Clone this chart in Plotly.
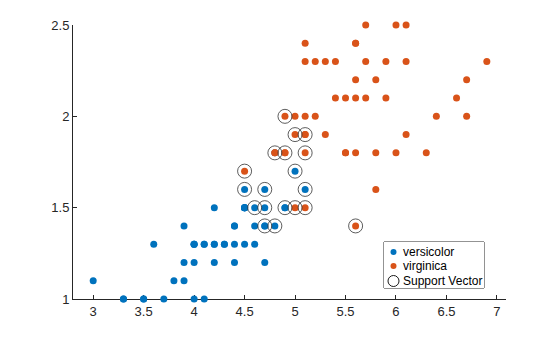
import plotly.graph_objects as go

# Fisher iris petal measurements (length, width) in cm
versicolor_len = [4.7, 4.5, 4.9, 4.0, 4.6, 4.5, 4.7, 3.3, 4.6, 3.9, 3.5, 4.2, 4.0, 4.7, 3.6,
                  4.4, 4.5, 4.1, 4.5, 3.9, 4.8, 4.0, 4.9, 4.7, 4.3, 4.4, 4.8, 5.0, 4.5, 3.5,
                  3.8, 3.7, 3.9, 5.1, 4.5, 4.5, 4.7, 4.4, 4.1, 4.0, 4.4, 4.6, 4.0, 3.3, 4.2,
                  4.2, 4.2, 4.3, 3.0, 4.1]
versicolor_wid = [1.4, 1.5, 1.5, 1.3, 1.5, 1.3, 1.6, 1.0, 1.3, 1.4, 1.0, 1.5, 1.0, 1.4, 1.3,
                  1.4, 1.5, 1.0, 1.5, 1.1, 1.8, 1.3, 1.5, 1.2, 1.3, 1.4, 1.4, 1.7, 1.5, 1.0,
                  1.1, 1.0, 1.2, 1.6, 1.5, 1.6, 1.5, 1.3, 1.3, 1.3, 1.2, 1.4, 1.2, 1.0, 1.3,
                  1.2, 1.3, 1.3, 1.1, 1.3]
virginica_len = [6.0, 5.1, 5.9, 5.6, 5.8, 6.6, 4.5, 6.3, 5.8, 6.1, 5.1, 5.3, 5.5, 5.0, 5.1,
                 5.3, 5.5, 6.7, 6.9, 5.0, 5.7, 4.9, 6.7, 4.9, 5.7, 6.0, 4.8, 4.9, 5.6, 5.8,
                 6.1, 6.4, 5.6, 5.1, 5.6, 6.1, 5.6, 5.5, 4.8, 5.4, 5.6, 5.1, 5.1, 5.9, 5.7,
                 5.2, 5.0, 5.2, 5.4, 5.1]
virginica_wid = [2.5, 1.9, 2.1, 1.8, 2.2, 2.1, 1.7, 1.8, 1.8, 2.5, 2.0, 1.9, 2.1, 2.0, 2.4,
                 2.3, 1.8, 2.2, 2.3, 1.5, 2.3, 2.0, 2.0, 1.8, 2.1, 1.8, 1.8, 1.8, 2.1, 1.6,
                 1.9, 2.0, 2.2, 1.5, 1.4, 2.3, 2.4, 1.8, 1.8, 2.1, 2.4, 2.3, 1.9, 2.3, 2.5,
                 2.3, 1.9, 2.0, 2.3, 1.8]

# Support vectors of the linear SVM separating the two species
sv_len = [4.9, 5.0, 5.1, 4.8, 4.9, 5.1, 4.5, 5.0, 4.5, 4.7, 5.1,
          4.6, 4.7, 4.9, 5.0, 5.1, 4.7, 4.8, 5.6]
sv_wid = [2.0, 1.9, 1.9, 1.8, 1.8, 1.8, 1.7, 1.7, 1.6, 1.6, 1.6,
          1.5, 1.5, 1.5, 1.5, 1.5, 1.4, 1.4, 1.4]

x_ticks = [3, 3.5, 4, 4.5, 5, 5.5, 6, 6.5, 7]
y_ticks = [1, 1.5, 2, 2.5]

legend_labels = ["versicolor", "virginica", "Support Vector"]

BLUE = "#0072BD"
ORANGE = "#D95319"
AXIS = "#262626"
RING = "#333333"
FONT = "Liberation Sans, Arial, Helvetica, sans-serif"

fig = go.Figure()
fig.add_trace(go.Scatter(x=versicolor_len, y=versicolor_wid, mode="markers", name="versicolor",
                         cliponaxis=False,
                         marker=dict(color=BLUE, size=7, line=dict(width=0))))
fig.add_trace(go.Scatter(x=virginica_len, y=virginica_wid, mode="markers", name="virginica",
                         cliponaxis=False,
                         marker=dict(color=ORANGE, size=7, line=dict(width=0))))
fig.add_trace(go.Scatter(x=sv_len, y=sv_wid, mode="markers", name="Support Vector",
                         cliponaxis=False,
                         marker=dict(symbol="circle-open", color=RING, size=14,
                                     line=dict(width=0.8, color=RING))))

# Compact boxed legend drawn on its own small axes (pixel-like units)
leg_rows = [10, 24, 39]
leg_marker_x = 9.5
fig.add_trace(go.Scatter(x=[leg_marker_x], y=[leg_rows[0]], xaxis="x2", yaxis="y2",
                         mode="markers", marker=dict(color=BLUE, size=6), hoverinfo="skip"))
fig.add_trace(go.Scatter(x=[leg_marker_x], y=[leg_rows[1]], xaxis="x2", yaxis="y2",
                         mode="markers", marker=dict(color=ORANGE, size=6), hoverinfo="skip"))
fig.add_trace(go.Scatter(x=[leg_marker_x], y=[leg_rows[2]], xaxis="x2", yaxis="y2",
                         mode="markers", hoverinfo="skip",
                         marker=dict(symbol="circle-open", color="black", size=11,
                                     line=dict(width=0.9, color="black"))))
for label, ry in zip(legend_labels, leg_rows):
    fig.add_annotation(x=17, y=ry, xref="x2", yref="y2", text=label, showarrow=False,
                       xanchor="left", yanchor="middle",
                       font=dict(family=FONT, size=12, color="black"))

axis_common = dict(showgrid=False, zeroline=False, showline=True, linecolor=AXIS, linewidth=1,
                   ticks="inside", ticklen=4, tickwidth=1, tickcolor=AXIS,
                   tickfont=dict(family=FONT, size=13, color=AXIS), mirror=False,
                   layer="below traces")

plot_w = 560 - 73 - 54
plot_h = 337 - 25 - 38
box = dict(x0=384, x1=484, y0=242, y1=288)
leg_x0 = (box["x0"] - 73) / plot_w
leg_x1 = (box["x1"] - 73) / plot_w
leg_y0 = (299 - box["y1"]) / plot_h
leg_y1 = (299 - box["y0"]) / plot_h

fig.add_shape(type="rect", xref="paper", yref="paper", x0=leg_x0, x1=leg_x1, y0=leg_y0, y1=leg_y1,
              line=dict(color=AXIS, width=1), fillcolor="white", layer="below")

fig.update_layout(
    width=560, height=337,
    margin=dict(l=73, r=54, t=25, b=38),
    paper_bgcolor="white", plot_bgcolor="white",
    xaxis=dict(range=[2.8, 7.09], tickvals=x_ticks, ticktext=[f"{v:g}" for v in x_ticks],
               **axis_common),
    yaxis=dict(range=[1, 2.5], tickvals=y_ticks, ticktext=[f"{v:g}" for v in y_ticks],
               **axis_common),
    xaxis2=dict(domain=[leg_x0, leg_x1], range=[0, box["x1"] - box["x0"]], anchor="y2",
                visible=False, fixedrange=True),
    yaxis2=dict(domain=[leg_y0, leg_y1], range=[box["y1"] - box["y0"], 0], anchor="x2",
                visible=False, fixedrange=True),
    showlegend=False,
)

fig.write_html("out.html")
